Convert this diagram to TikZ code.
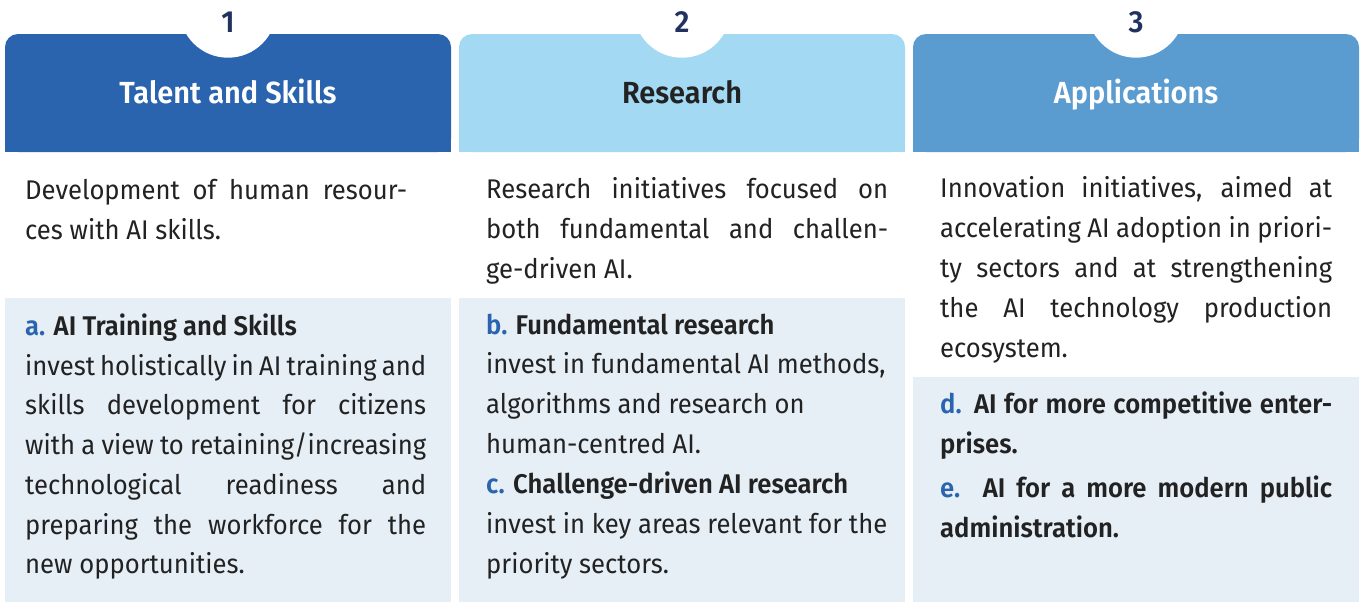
\documentclass[tikz,border=0pt]{standalone}
\usepackage{fontspec}
\setmainfont{Fira Sans}[BoldFont={Fira Sans SemiBold},FakeStretch=0.95]
\definecolor{hdrA}{HTML}{2A64AE}
\definecolor{hdrB}{HTML}{A3D9F2}
\definecolor{hdrC}{HTML}{5A9BD0}
\definecolor{panel}{HTML}{E6EEF6}
\definecolor{txt}{HTML}{222222}
\definecolor{navy}{HTML}{22325F}
\definecolor{lbl}{HTML}{2A64AE}
\newcommand\bodyfont{\fontsize{27}{40}\selectfont}
\newcommand\hdrfont{\fontsize{30.5}{36}\selectfont\bfseries}
\newcommand\jl[2]{\makebox[#1pt][s]{#2}}
\newcommand\lb[1]{\textcolor{lbl}{#1}}
\begin{document}
\begin{tikzpicture}[x=1pt,y=-1pt,
  body/.style={anchor=base west,inner sep=0pt,text=txt,font=\bodyfont},
  bbody/.style={anchor=base west,inner sep=0pt,text=txt,font=\bodyfont\bfseries},
  hdrtext/.style={anchor=base,inner sep=0pt,font=\hdrfont},
  numtext/.style={anchor=base,inner sep=0pt,text=navy,font=\hdrfont}]
\useasboundingbox (0,0) rectangle (1365,603);
\fill[white] (0,0) rectangle (1365,603);
% headers
\fill[hdrA,rounded corners=13] (5,34) rectangle (451,152);
\fill[hdrA] (5,100) rectangle (451,152);
\fill[hdrB,rounded corners=13] (459,34) rectangle (905,152);
\fill[hdrB] (459,100) rectangle (905,152);
\fill[hdrC,rounded corners=13] (913,34) rectangle (1359,152);
\fill[hdrC] (913,100) rectangle (1359,152);
\fill[white] (228,9) circle[radius=48.7];
\fill[white] (682,9) circle[radius=48.7];
\fill[white] (1136,9) circle[radius=48.7];
% panels
\fill[panel] (5,298) rectangle (451,602);
\fill[panel] (459,298) rectangle (905,602);
\fill[panel] (913,377) rectangle (1359,602);
% numbers and titles
\node[numtext] (n1) at (228,32) {1};
\node[numtext] (n2) at (682,32) {2};
\node[numtext] (n3) at (1136,32) {3};
\node[hdrtext,text=white] (h1) at (228,103) {Talent and Skills};
\node[hdrtext,text=txt] (h2) at (682,103) {Research};
\node[hdrtext,text=white] (h3) at (1136,103) {Applications};
% column 1
\node[body] (a1) at (25,199) {\jl{382}{Development of human resour-}};
\node[body] (a2) at (25,239) {ces with AI skills.};
\node[bbody] (a3) at (25,335) {\lb{a.} AI Training and Skills};
\node[body] (a4) at (25,375) {\jl{401}{invest holistically in AI training and}};
\node[body] (a5) at (25,414) {\jl{401}{skills development for citizens}};
\node[body] (a6) at (25,454) {\jl{401}{with a view to retaining/increasing}};
\node[body] (a7) at (25,494) {\jl{401}{technological readiness and}};
\node[body] (a8) at (25,534) {\jl{401}{preparing the workforce for the}};
\node[body] (a9) at (25,573) {new opportunities.};
% column 2
\node[body] (b1) at (486,198) {\jl{402}{Research initiatives focused on}};
\node[body] (b2) at (486,238) {\jl{402}{both fundamental and challen-}};
\node[body] (b3) at (486,278) {ge-driven AI.};
\node[bbody] (b4) at (486,334) {\lb{b.} Fundamental research};
\node[body] (b5) at (486,373) {invest in fundamental AI methods,};
\node[body] (b6) at (486,413) {algorithms and research on};
\node[body] (b7) at (486,453) {human-centred AI.};
\node[bbody] (b8) at (486,493) {\lb{c.} Challenge-driven AI research};
\node[body] (b9) at (486,533) {invest in key areas relevant for the};
\node[body] (b10) at (486,573) {priority sectors.};
% column 3
\node[body] (c1) at (940,197) {\jl{392}{Innovation initiatives, aimed at}};
\node[body] (c2) at (940,237) {\jl{392}{accelerating AI adoption in priori-}};
\node[body] (c3) at (940,277) {\jl{392}{ty sectors and at strengthening}};
\node[body] (c4) at (940,317) {\jl{392}{the AI technology production}};
\node[body] (c5) at (940,357) {ecosystem.};
\node[bbody] (c6) at (940,413) {\jl{392}{\lb{d.} AI for more competitive enter-}};
\node[bbody] (c7) at (940,453) {prises.};
\node[bbody] (c8) at (940,497) {\jl{392}{\lb{e.} AI for a more modern public}};
\node[bbody] (c9) at (940,537) {administration.};
\end{tikzpicture}
\end{document}
